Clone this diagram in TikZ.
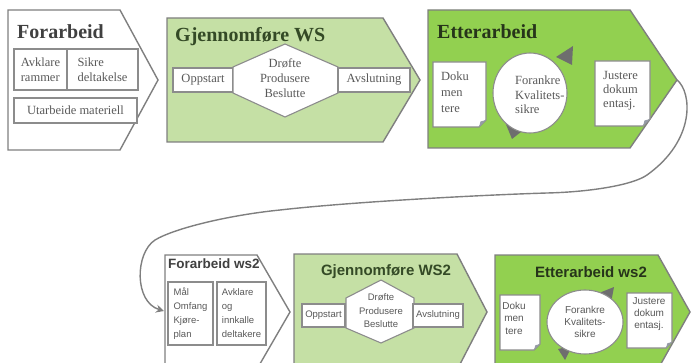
\documentclass[tikz,border=0pt]{standalone}
\usepackage{fontspec}
\setmainfont{Liberation Serif}
\newfontfamily\arialf{Liberation Sans}
\usetikzlibrary{arrows.meta,calc}
\definecolor{linegray}{RGB}{127,127,127}
\definecolor{cellgray}{RGB}{140,140,140}
\definecolor{txtgray}{RGB}{89,89,89}
\definecolor{lightgreen}{RGB}{197,224,165}
\definecolor{brightgreen}{RGB}{146,208,80}
\definecolor{ttlgray}{RGB}{64,64,64}
\definecolor{ttlgreen}{RGB}{52,74,38}
\definecolor{ttldark}{RGB}{38,52,26}
\definecolor{foldgray}{RGB}{150,156,166}
\definecolor{cyclegray}{RGB}{110,110,110}
\begin{document}
\begin{tikzpicture}[x=1pt,y=-1pt,
  chev/.style={draw=linegray,line width=1.4pt,line join=miter},
  cell/.style={draw=cellgray,line width=1.1pt,fill=white,inner sep=0pt,align=left,text=txtgray},
  shape line/.style={draw=cellgray,line width=1.1pt,fill=white},
  sertxt/.style={font=\fontsize{12.5}{15}\selectfont,text=txtgray,inner sep=0pt},
  santxt/.style={font=\arialf\fontsize{9.5}{12.5}\selectfont,text=txtgray,inner sep=0pt},
  serttl/.style={font=\fontsize{20}{22}\selectfont\bfseries,inner sep=0pt,anchor=west},
  santtl/.style={font=\arialf\fontsize{15}{17}\selectfont\bfseries,inner sep=0pt},
  conn/.style={draw=linegray,line width=1.4pt,-{Stealth[length=8pt,width=8pt]}}]
\useasboundingbox (0,0) rectangle (692,363);
\clip (0,0) rectangle (692,363);

% ---------- first workshop ----------
% Forarbeid
\draw[chev,fill=white] (8,10) -- (120,10) -- (158,80) -- (120,150) -- (8,150) -- cycle;
\node[serttl,text=ttlgray] (f1title) at (17,32) {Forarbeid};
\node[cell,sertxt,minimum width=53pt,minimum height=41pt] (f1a) at (40.5,69.5) {Avklare\\rammer};
\node[cell,sertxt,minimum width=71pt,minimum height=41pt] (f1b) at (102.5,69.5) {Sikre\\deltakelse};
\node[cell,sertxt,minimum width=123pt,minimum height=25pt] (f1c) at (75.5,110.5) {Utarbeide materiell};

% Gjennomfore WS
\draw[chev,fill=lightgreen] (167,18) -- (383,18) -- (420,80) -- (383,142) -- (167,142) -- cycle;
\node[serttl,text=ttlgreen] (g1title) at (175,37) {Gjennomføre WS};
\node[cell,sertxt,minimum width=60pt,minimum height=24pt] (g1a) at (203,80) {Oppstart};
\path[shape line] (285,44) -- (338,67) -- (338,93) -- (285,117) -- (233,93) -- (233,67) -- cycle;
\node[sertxt,align=center] (g1b) at (285,78) {Drøfte\\Produsere\\Beslutte};
\node[cell,sertxt,minimum width=72pt,minimum height=24pt] (g1c) at (374,80) {Avslutning};

% Etterarbeid
\draw[chev,fill=brightgreen] (428,10) -- (630,10) -- (677,80) -- (630,148) -- (428,148) -- cycle;
\coordinate (e1tip) at (677,80);
\node[serttl,text=ttldark] (e1title) at (437,32) {Etterarbeid};
% document sheets with folded corner
\path[shape line] (433,62) -- (486,62) -- (486,120) -- (479,127) -- (433,127) -- cycle;
\fill[foldgray] (486,120) -- (479,127) -- (480.5,121.5) -- cycle;
\node[sertxt,align=left,anchor=north west,font=\fontsize{12.5}{16}\selectfont] (e1a) at (441,72) {Doku\\men\\tere};
\path[shape line] (595,61) -- (650,61) -- (650,119) -- (643,126) -- (595,126) -- cycle;
\fill[foldgray] (650,119) -- (643,126) -- (644.5,120.5) -- cycle;
\node[sertxt,align=left,anchor=north west,font=\fontsize{12.5}{14}\selectfont] (e1c) at (603,71) {Justere\\dokum\\entasj.};
% cycle: arrow heads behind the ellipse
\fill[cyclegray] (556,57) -- (573,46) -- (572,65) -- cycle;
\fill[cyclegray] (505,122) -- (512,139) -- (526,128) -- cycle;
\path[shape line] (530,93) ellipse [x radius=37, y radius=40];
\node[sertxt,align=left,anchor=north west,font=\fontsize{12.5}{14.5}\selectfont] (e1b) at (515,76) {Forankre\\Kvalitets-\\sikre};

% ---------- second workshop ----------
% Forarbeid ws2
\draw[chev,fill=white] (165,255) -- (257,255) -- (290,312) -- (257,369) -- (165,369) -- cycle;
\coordinate (f2in) at (164,311);
\node[santtl,anchor=west,font=\arialf\fontsize{13.5}{16}\selectfont\bfseries,text=ttlgray] (f2title) at (168,264) {Forarbeid ws2};
\node[cell,santxt,font=\arialf\fontsize{9.5}{14}\selectfont,minimum width=45pt,minimum height=63pt] (f2a) at (190.5,313.5) {Mål\\Omfang\\Kjøre-\\plan};
\node[cell,santxt,font=\arialf\fontsize{9.5}{14}\selectfont,minimum width=49pt,minimum height=63pt] (f2b) at (241.5,313.5) {Avklare\\og\\innkalle\\deltakere};

% Gjennomfore WS2
\draw[chev,fill=lightgreen] (294,254) -- (457,254) -- (487,312) -- (457,370) -- (294,370) -- cycle;
\node[santtl,text=ttlgreen] (g2title) at (386,272) {Gjennomføre WS2};
\node[cell,santxt,minimum width=43pt,minimum height=23pt] (g2a) at (323.5,315.5) {Oppstart};
\path[shape line] (381,280) -- (414,298) -- (414,328) -- (381,343) -- (346,328) -- (346,298) -- cycle;
\node[santxt,align=center,font=\arialf\fontsize{9.5}{13.5}\selectfont] (g2b) at (381,311) {Drøfte\\Produsere\\Beslutte};
\node[cell,santxt,minimum width=50pt,minimum height=23pt] (g2c) at (438,315.5) {Avslutning};

% Etterarbeid ws2
\draw[chev,fill=brightgreen] (495,255) -- (658,255) -- (690,312) -- (658,369) -- (495,369) -- cycle;
\node[santtl,text=ttldark] (e2title) at (591,272) {Etterarbeid ws2};
\path[shape line] (500,295) -- (540,295) -- (540,344) -- (534,350) -- (500,350) -- cycle;
\fill[foldgray] (540,344) -- (534,350) -- (535.3,345.3) -- cycle;
\node[santxt,align=center,font=\arialf\fontsize{10}{12.5}\selectfont] (e2a) at (514,318) {Doku\\men\\tere};
\path[shape line] (627,293) -- (672,293) -- (672,342) -- (666,348) -- (627,348) -- cycle;
\fill[foldgray] (672,342) -- (666,348) -- (667.3,343.3) -- cycle;
\node[santxt,align=center,font=\arialf\fontsize{10}{12}\selectfont] (e2c) at (649,314) {Justere\\dokum\\entasj.};
\fill[cyclegray] (599,293) -- (614,287) -- (611,303) -- cycle;
\fill[cyclegray] (558,349) -- (572,346) -- (565,360) -- cycle;
\path[shape line] (585,322) ellipse [x radius=38, y radius=32];
\node[santxt,align=center,font=\arialf\fontsize{10}{12}\selectfont] (e2b) at (585,322) {Forankre\\Kvalitets-\\sikre};

% ---------- link from the first workshop to the second ----------
\draw[conn] (e1tip) .. controls (692,92) and (696,140) .. (647,175)
  .. controls (633,185) and (590,192) .. (547,193)
  .. controls (480,195) and (350,202) .. (280,210)
  .. controls (230,215) and (175,228) .. (155,240)
  .. controls (135,253) and (134,302) .. (f2in);
\end{tikzpicture}
\end{document}
